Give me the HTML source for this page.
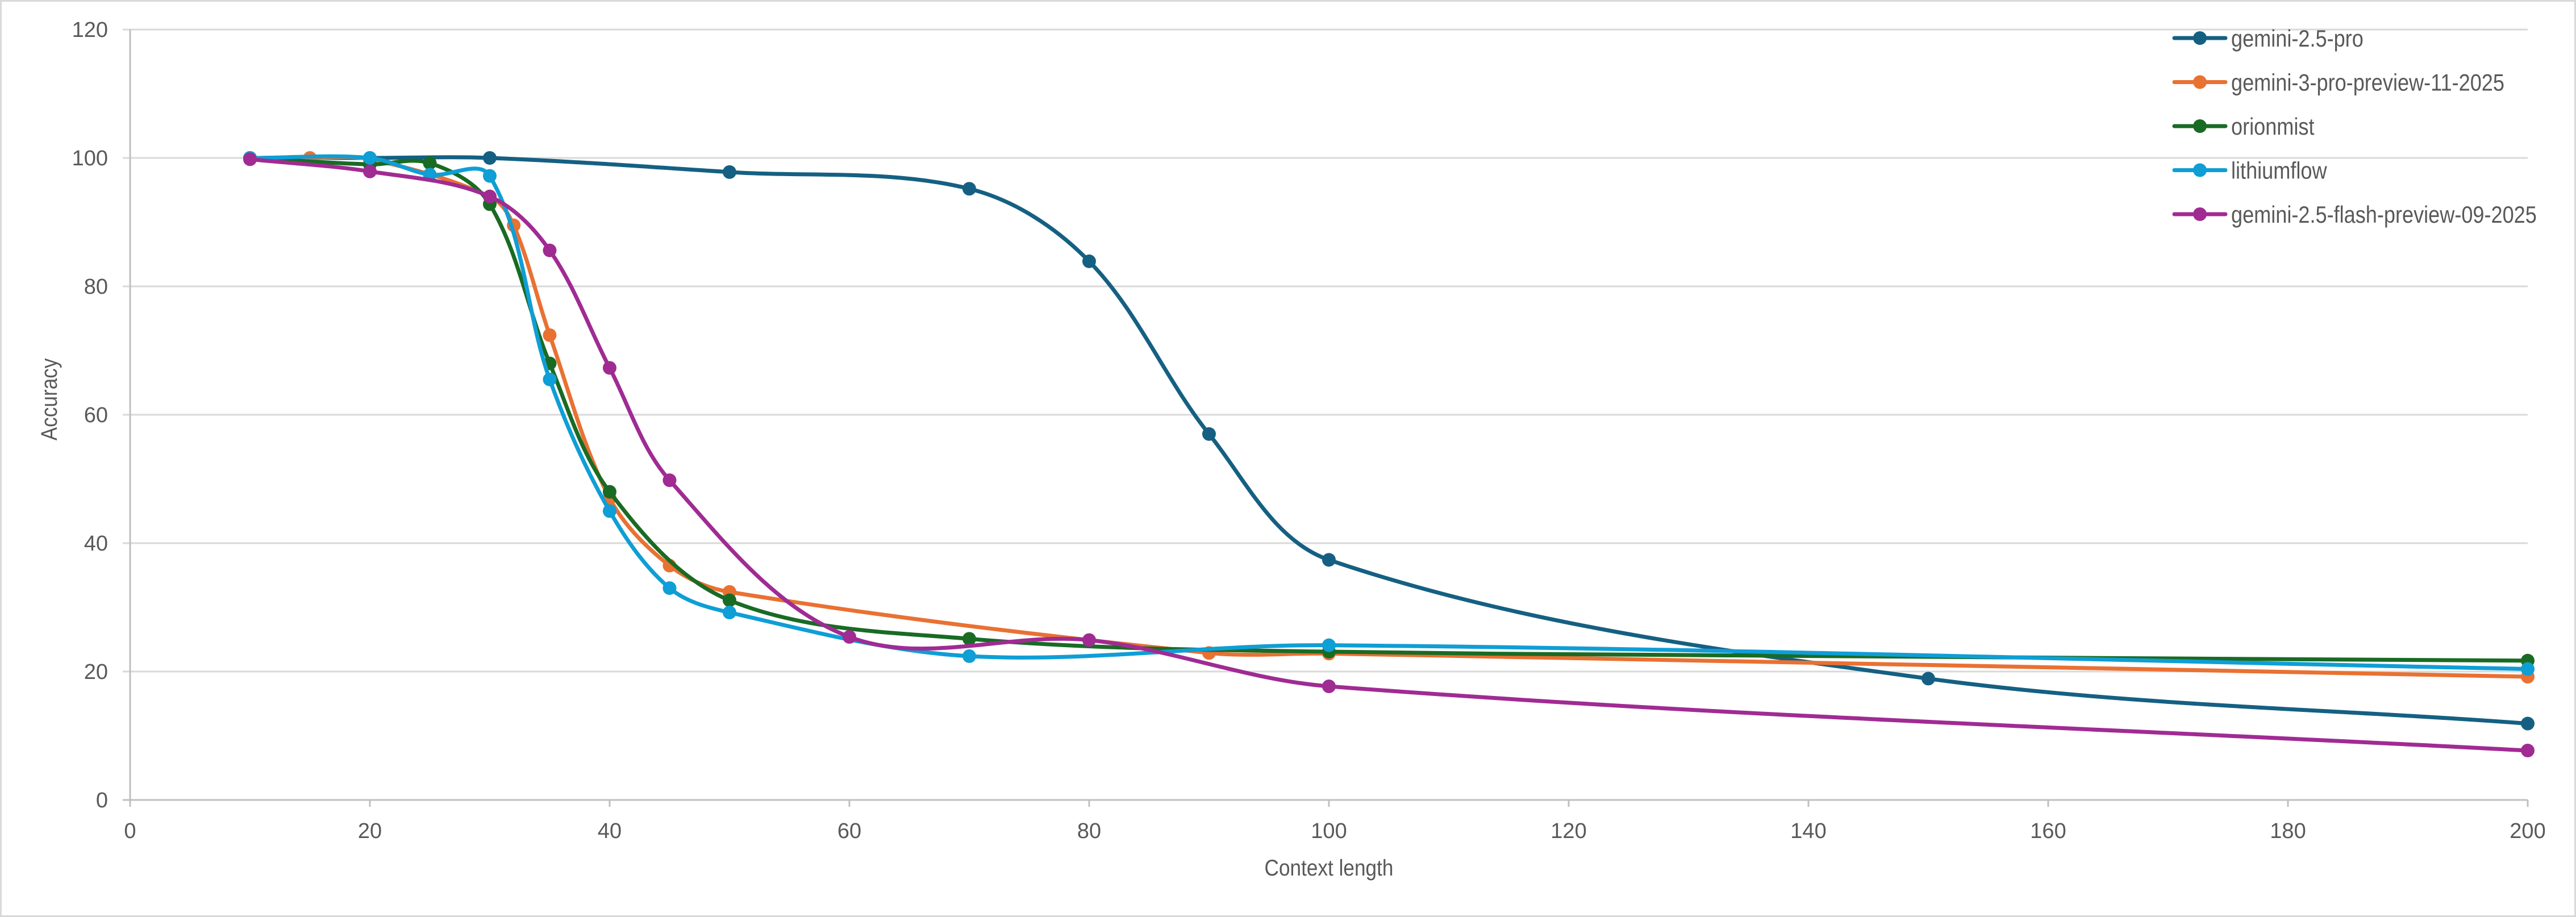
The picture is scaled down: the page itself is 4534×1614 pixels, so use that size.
<!DOCTYPE html>
<html><head><meta charset="utf-8"><style>
html,body{margin:0;padding:0;background:#fff}
svg{display:block}
text{font-family:"Liberation Sans Narrow","Liberation Sans",sans-serif;fill:#595959}
</style></head><body>
<svg id="chart" width="4534" height="1614" viewBox="0 0 4534 1614" xmlns="http://www.w3.org/2000/svg">
<rect x="1.5" y="1.5" width="4531" height="1611" fill="#fff" stroke="#d9d9d9" stroke-width="3"/>
<g id="grid"></g>
<g id="axes"></g>
<g id="series"></g>
<g id="legend"></g>
<text x="0" y="0" font-size="40" text-anchor="middle" transform="translate(100,703) rotate(-90) scale(0.88,1)">Accuracy</text>
<text x="0" y="0" font-size="40" text-anchor="middle" transform="translate(2339,1541) scale(0.88,1)">Context length</text>
</svg>
<script>
const seriesNames = ["gemini-2.5-pro","gemini-3-pro-preview-11-2025","orionmist","lithiumflow","gemini-2.5-flash-preview-09-2025"];
const seriesColors = ["#156082","#E97132","#196B24","#0F9ED5","#A02B93"];
const xPro = [10,20,30,50,70,80,90,100,150,200];
const yPro = [100,100,100,97.8,95.2,83.9,57,37.4,18.9,11.9];
const xG3 = [10,15,20,30,32,35,40,45,50,90,100,200];
const yG3 = [100,100,99.8,94,89.5,72.4,47,36.5,32.4,22.9,22.8,19.2];
const xOrion = [10,20,25,30,35,40,50,70,100,200];
const yOrion = [100,99,99.2,92.8,68,48,31.1,25.1,23.1,21.7];
const xLith = [10,20,25,30,35,40,45,50,70,100,200];
const yLith = [100,100,97.4,97.2,65.5,45,33,29.2,22.4,24.1,20.4];
const xFlash = [10,20,30,35,40,45,60,80,100,200];
const yFlash = [99.8,97.9,94,85.6,67.3,49.8,25.4,24.9,17.7,7.7];
const xTicks = [0,20,40,60,80,100,120,140,160,180,200];
const yTicks = [0,20,40,60,80,100,120];

const NS="http://www.w3.org/2000/svg";
const X0=229,X1=4449,Y0=1408,Y1=52;
const sx=v=>X0+(v-0)/(200-0)*(X1-X0);
const sy=v=>Y0-(v-0)/(120-0)*(Y0-Y1);
function mk(tag,parent){const e=document.createElementNS(NS,tag);parent.appendChild(e);return e;}
const grid=document.getElementById('grid'),axes=document.getElementById('axes'),ser=document.getElementById('series'),leg=document.getElementById('legend');

yTicks.forEach(t=>{
  if(t>0){const l=mk('line',grid);
  
  
  l.setAttribute('x1',216);l.setAttribute('x2',X1);l.setAttribute('y1',sy(t));l.setAttribute('y2',sy(t));l.setAttribute('stroke','#d9d9d9');l.setAttribute('stroke-width',3);}
  const tx=mk('text',axes);
  
  
  tx.setAttribute('x',190);tx.setAttribute('y',sy(t)+13);tx.setAttribute('font-size',38);tx.setAttribute('text-anchor','end');tx.textContent=t;
});
let yl=mk('line',axes);


yl.setAttribute('x1',X0);yl.setAttribute('x2',X0);yl.setAttribute('y1',Y1);yl.setAttribute('y2',Y0+12);yl.setAttribute('stroke','#bfbfbf');yl.setAttribute('stroke-width',3);
let xl=mk('line',axes);


xl.setAttribute('x1',216);xl.setAttribute('x2',X1);xl.setAttribute('y1',Y0);xl.setAttribute('y2',Y0);xl.setAttribute('stroke','#bfbfbf');xl.setAttribute('stroke-width',3);
xTicks.forEach(t=>{
  const tk=mk('line',axes);
  
  
  tk.setAttribute('x1',sx(t));tk.setAttribute('x2',sx(t));tk.setAttribute('y1',Y0);tk.setAttribute('y2',Y0+12);tk.setAttribute('stroke','#bfbfbf');tk.setAttribute('stroke-width',3);
  const tx=mk('text',axes);
  
  
  tx.setAttribute('x',sx(t));tx.setAttribute('y',1475);tx.setAttribute('font-size',38);tx.setAttribute('text-anchor','middle');tx.textContent=t;
});

function tangent(pts,i){
  const p0=pts[i-1]||pts[i],p2=pts[i+1]||pts[i];
  const dx=p2[0]-p0[0],dy=p2[1]-p0[1],L=Math.hypot(dx,dy)||1;
  return [dx/L,dy/L];
}
function smooth(pts){
  let d=`M${pts[0][0]},${pts[0][1]}`;
  for(let i=0;i<pts.length-1;i++){
    const p1=pts[i],p2=pts[i+1];
    const seg=Math.hypot(p2[0]-p1[0],p2[1]-p1[1])/3;
    const t1=tangent(pts,i),t2=tangent(pts,i+1);
    const c1=[p1[0]+t1[0]*seg,p1[1]+t1[1]*seg];
    const c2=[p2[0]-t2[0]*seg,p2[1]-t2[1]*seg];
    d+=` C${c1[0]},${c1[1]} ${c2[0]},${c2[1]} ${p2[0]},${p2[1]}`;
  }
  return d;
}
const allX=[xPro,xG3,xOrion,xLith,xFlash],allY=[yPro,yG3,yOrion,yLith,yFlash];
const keys=["gemini-2-5-pro","gemini-3-pro","orionmist","lithiumflow","gemini-2-5-flash"];
allX.forEach((xs,si)=>{
  const g=mk('g',ser);
  
  
  const pts=xs.map((x,i)=>[sx(x),sy(allY[si][i])]);
  const p=mk('path',g);
  
  
  p.setAttribute('d',smooth(pts));p.setAttribute('fill','none');p.setAttribute('stroke',seriesColors[si]);p.setAttribute('stroke-width',7);p.setAttribute('stroke-linecap','round');
  pts.forEach(q=>{
    const c=mk('circle',g);
    
    
    c.setAttribute('cx',q[0]);c.setAttribute('cy',q[1]);c.setAttribute('r',12);c.setAttribute('fill',seriesColors[si]);
  });
});
seriesNames.forEach((n,i)=>{
  const y=67+i*77.5;
  const g=mk('g',leg);
  
  
  const l=mk('line',g);
  
  
  l.setAttribute('x1',3827);l.setAttribute('x2',3917);l.setAttribute('y1',y);l.setAttribute('y2',y);l.setAttribute('stroke',seriesColors[i]);l.setAttribute('stroke-width',7);l.setAttribute('stroke-linecap','round');
  const c=mk('circle',g);
  
  
  c.setAttribute('cx',3872);c.setAttribute('cy',y);c.setAttribute('r',12);c.setAttribute('fill',seriesColors[i]);
  const t=mk('text',g);
  
  
  t.setAttribute('x',0);t.setAttribute('y',0);t.setAttribute('font-size',42);
  t.setAttribute('transform',`translate(3927,${y+15}) scale(0.86,1)`);
  t.textContent=n;
});
</script>
</body></html>
